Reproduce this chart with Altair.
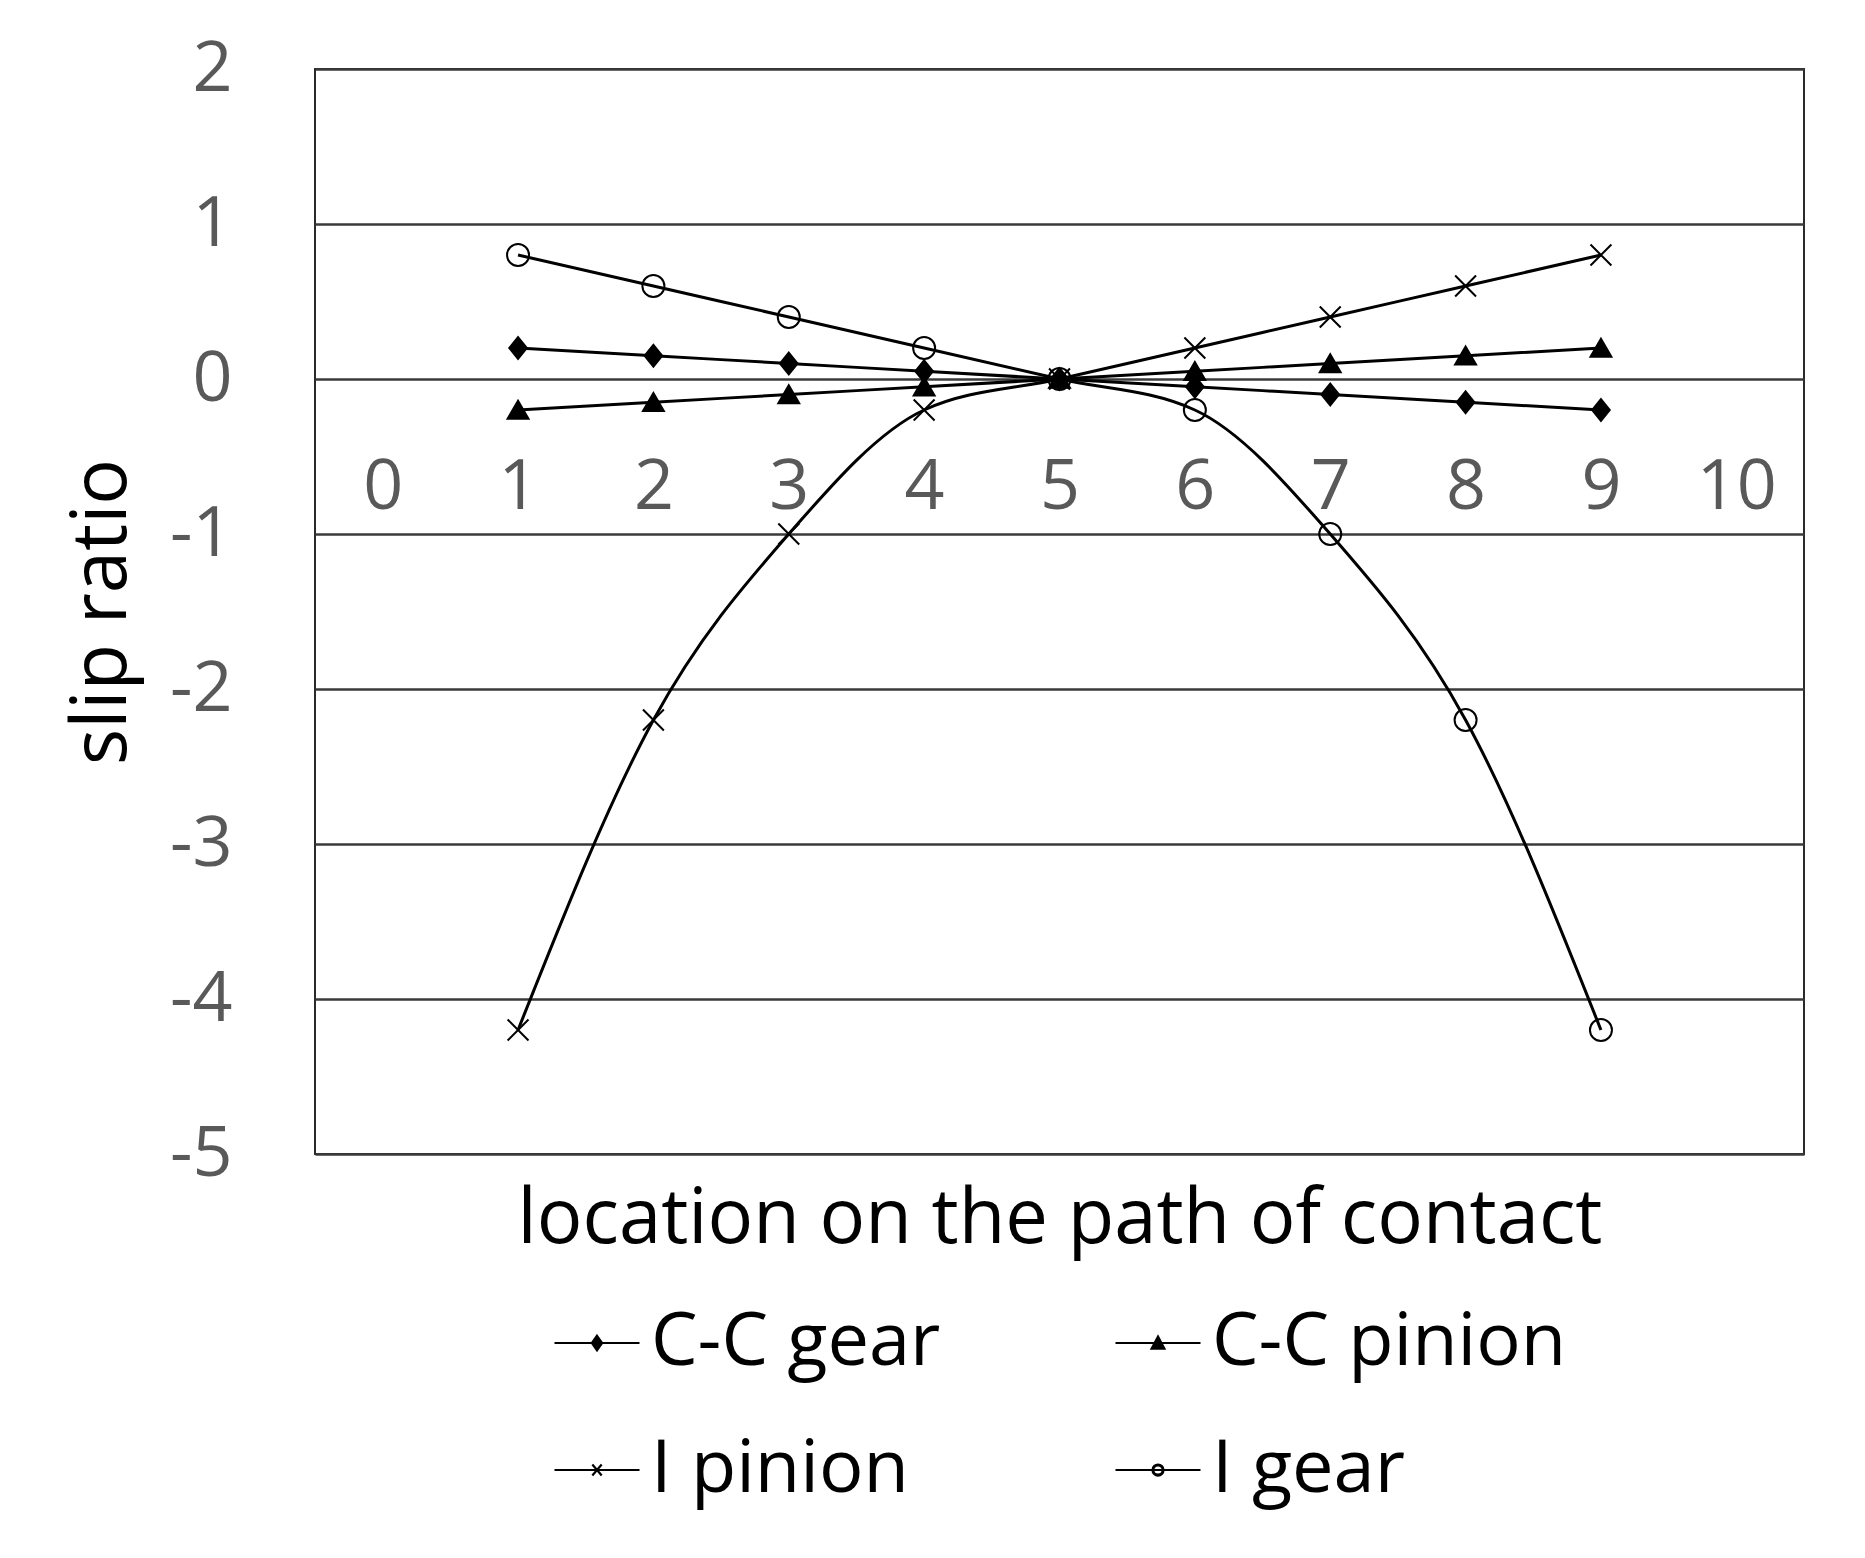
import altair as alt
import pandas as pd

# ---- data ----
series = ["C-C gear", "C-C pinion", "I pinion", "I gear"]
locations = [1, 2, 3, 4, 5, 6, 7, 8, 9]
cc_gear = [0.2, 0.15, 0.1, 0.05, 0.0, -0.05, -0.1, -0.15, -0.2]
cc_pinion = [-0.2, -0.15, -0.1, -0.05, 0.0, 0.05, 0.1, 0.15, 0.2]
i_pinion = [-4.2, -2.2, -1.0, -0.2, 0.0, 0.2, 0.4, 0.6, 0.8]
i_gear = [0.8, 0.6, 0.4, 0.2, 0.0, -0.2, -1.0, -2.2, -4.2]
x_ticks = [0, 1, 2, 3, 4, 5, 6, 7, 8, 9, 10]
y_ticks = [-5, -4, -3, -2, -1, 0, 1, 2]

values = {"C-C gear": cc_gear, "C-C pinion": cc_pinion, "I pinion": i_pinion, "I gear": i_gear}
rows = []
for s in series:
    for x, y in zip(locations, values[s]):
        rows.append({"series": s, "x": x, "y": y})
df = pd.DataFrame(rows)

W, H = 1489, 1085
FONT = "Open Sans"
TICK_FS = 70
TITLE_FS = 76
LEG_FS = 74

x_enc = alt.X(
    "x:Q",
    scale=alt.Scale(domain=[-0.5, 10.5], nice=False, zero=False),
    axis=alt.Axis(
        values=x_ticks, offset=-H * 5 / 7, domain=False, ticks=False, tickSize=0, grid=False,
        labelFont=FONT, labelFontSize=TICK_FS, labelColor="#595959", labelPadding=108,
        labelBaseline="middle", labelFlush=False, labelOverlap=False,
        title="location on the path of contact", titleFont=FONT, titleFontSize=TITLE_FS,
        titleFontWeight="normal", titleColor="black", titleX=W / 2, titleY=840,
        titleBaseline="middle", titleAlign="center",
    ),
)
y_enc = alt.Y(
    "y:Q",
    scale=alt.Scale(domain=[-5, 2], nice=False, zero=False),
    axis=alt.Axis(
        values=y_ticks, domain=False, ticks=False, tickSize=0, grid=True,
        gridColor="#3a3a3a", gridWidth=2.5, gridOpacity=1,
        labelFont=FONT, labelFontSize=TICK_FS, labelColor="#595959", labelPadding=83,
        labelFlush=False, labelOverlap=False, labelExpr="datum.value + ''",
        title="slip ratio", titleFont=FONT, titleFontSize=TITLE_FS, titleFontWeight="normal",
        titleColor="black", titlePadding=28,
    ),
)

lines = alt.Chart(df).mark_line(interpolate="monotone", color="black").encode(
    x=x_enc, y=y_enc, detail="series:N",
    strokeWidth=alt.StrokeWidth("series:N", scale=alt.Scale(domain=series, range=[3, 3, 2, 2]), legend=None),
)

diamond = "M0,-1L0.8,0L0,1L-0.8,0Z"
triangle = "M0,-0.85L0.95,0.8L-0.95,0.8Z"
cross = "M-0.95,-0.95L0.95,0.95M-0.95,0.95L0.95,-0.95"

points = alt.Chart(df).mark_point(stroke="black", strokeWidth=2, opacity=1, size=484).encode(
    x=x_enc, y=y_enc,
    shape=alt.Shape("series:N", scale=alt.Scale(domain=series, range=[diamond, triangle, cross, "circle"]), legend=None),
    fill=alt.Fill("series:N", scale=alt.Scale(domain=series, range=["black", "black", "transparent", "transparent"]), legend=None),
)

leg_diamond = "M-1,0L1,0M0,-0.17L0.12,0L0,0.17L-0.12,0ZM0,-0.09L0.06,0L0,0.09L-0.06,0Z"
leg_triangle = "M-1,0L1,0M0,-0.15L0.15,0.13L-0.15,0.13ZM0,-0.05L0.07,0.08L-0.07,0.08Z"
leg_cross = "M-1,0L1,0M-0.11,-0.13L0.11,0.13M-0.11,0.13L0.11,-0.13"
leg_circle = ("M-1,0L1,0"
              "M0.13,0A0.13,0.13 0 1,1 -0.13,0A0.13,0.13 0 1,1 0.13,0Z"
              "M0.11,0A0.11,0.11 0 1,0 -0.11,0A0.11,0.11 0 1,0 0.11,0Z")

legend_layer = alt.Chart(df).mark_point(
    filled=False, fill="black", stroke="black", strokeWidth=2.2, opacity=1, size=7225
).encode(
    x=x_enc, y=y_enc,
    shape=alt.Shape(
        "series:N",
        scale=alt.Scale(domain=series, range=[leg_diamond, leg_triangle, leg_cross, leg_circle]),
        legend=alt.Legend(
            orient="none", legendX=238, legendY=1230, columns=2, direction="horizontal",
            columnPadding=170, rowPadding=46,
            symbolSize=7225, symbolStrokeWidth=2.2,
            symbolOpacity=1, labelFont=FONT, labelFontSize=LEG_FS, labelColor="black", labelOffset=10,
            labelLimit=800, title=None, padding=0,
        ),
    ),
).transform_filter("datum.x > 100")

chart = (
    alt.layer(lines, points, legend_layer)
    .resolve_scale(shape="independent")
    .properties(
        width=W, height=H,
        autosize=alt.AutoSizeParams(type="none"),
        padding={"left": 307, "top": 61, "right": 40, "bottom": 384},
        background="white",
    )
    .configure_view(stroke="#2a2a2a", strokeWidth=2)
)

chart.save("out.html", embed_options={"renderer": "svg", "actions": False})
